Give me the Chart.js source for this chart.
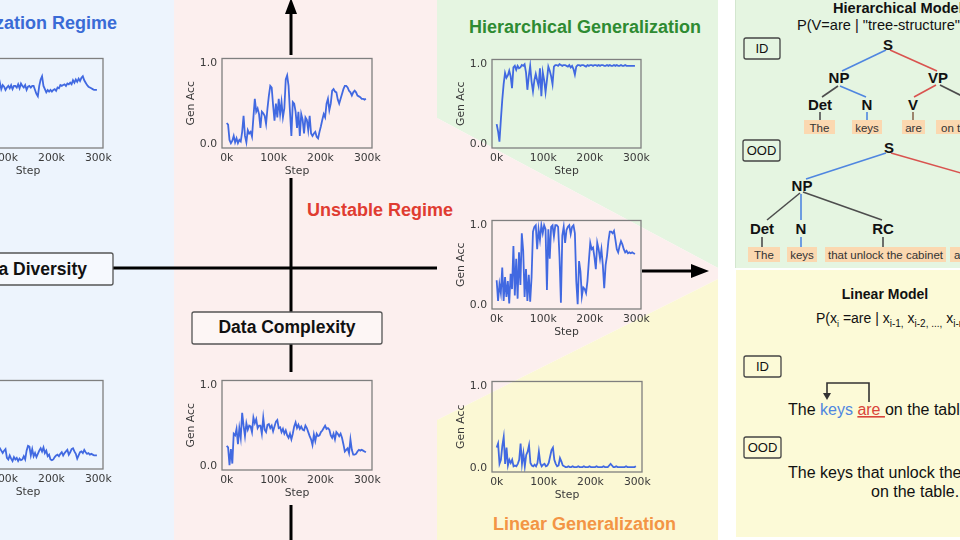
<!DOCTYPE html>
<html><head><meta charset="utf-8">
<script src="https://cdn.jsdelivr.net/npm/chart.js@4.4.1/dist/chart.umd.min.js"></script>
<style>
html,body{margin:0;padding:0;background:#fff;}
#stage{position:relative;width:960px;height:540px;overflow:hidden;background:#fff;}
.cw{position:absolute;}
svg text{font-family:"Liberation Sans",Arial,sans-serif;}
</style></head>
<body><div id="stage">
<svg id="bg" width="960" height="540" style="position:absolute;left:0;top:0">
  <rect x="0" y="0" width="175" height="540" fill="#edf4fd"/>
  <rect x="174" y="0" width="264" height="540" fill="#fcefee"/>
  <polygon points="437,0 718,0 718,268 437,118" fill="#e5f5e1"/>
  <polygon points="437,118 718,268 718,279 437,420" fill="#fcefee"/>
  <polygon points="437,420 718,279 718,540 437,540" fill="#fbf8d4"/>
  <rect x="735" y="0" width="230" height="268" fill="#e5f5e1"/>
  <line x1="735.5" y1="0" x2="735.5" y2="268" stroke="#d3e6cf" stroke-width="1"/>
  <rect x="736" y="270" width="230" height="267" fill="#fcfad7"/>

  <!-- axes of the diagram -->
  <g stroke="#000" stroke-width="3" fill="none">
    <line x1="113" y1="268" x2="437" y2="268"/>
    <line x1="642" y1="271" x2="695" y2="271"/>
    <line x1="291" y1="10" x2="291" y2="55"/>
    <line x1="291" y1="178" x2="291" y2="312"/>
    <line x1="291" y1="344" x2="291" y2="372"/>
    <line x1="291" y1="505" x2="291" y2="540"/>
  </g>
  <polygon points="291,-2 285,14 297,14" fill="#000"/>
  <polygon points="691,264 709,271 691,278" fill="#000"/>

  <rect x="-60" y="253" width="173" height="32" rx="2" fill="#f6f9fe" stroke="#555" stroke-width="1.3"/>
  <rect x="192" y="312" width="190" height="32" rx="2" fill="#fdf6f5" stroke="#555" stroke-width="1.3"/>
  <text x="87" y="275" font-size="17.5" font-weight="bold" text-anchor="end" fill="#111">Data Diversity</text>
  <text x="287" y="333" font-size="17.5" font-weight="bold" text-anchor="middle" fill="#111">Data Complexity</text>

  <text x="117" y="29" font-size="18" font-weight="bold" text-anchor="end" fill="#3a6bd6">Memorization Regime</text>
  <text x="469" y="33" font-size="18" font-weight="bold" fill="#2e8b32">Hierarchical Generalization</text>
  <text x="307" y="216" font-size="18" font-weight="bold" fill="#e03c31">Unstable Regime</text>
  <text x="493" y="530" font-size="18" font-weight="bold" fill="#f39545">Linear Generalization</text>

  <!-- Hierarchical model panel -->
  <text x="833" y="13" font-size="14.6" font-weight="bold" fill="#111">Hierarchical Model</text>
  <text x="797" y="30" font-size="14.6" fill="#111">P(V=are | "tree-structure", S)</text>
  <rect x="744" y="38" width="36" height="21" rx="2" fill="none" stroke="#444" stroke-width="1.3"/>
  <text x="762" y="53" font-size="13" text-anchor="middle" fill="#111">ID</text>
  <g stroke-width="1.6" fill="none">
    <line x1="886" y1="50" x2="842" y2="71" stroke="#4f86e0"/>
    <line x1="890" y1="50" x2="937" y2="71" stroke="#d9534f"/>
    <line x1="838" y1="86" x2="822" y2="97" stroke="#4d4d4d"/>
    <line x1="840" y1="86" x2="866" y2="97" stroke="#4f86e0"/>
    <line x1="936" y1="85" x2="914" y2="97" stroke="#d9534f"/>
    <line x1="940" y1="85" x2="964" y2="97" stroke="#4d4d4d"/>
    <line x1="820" y1="112" x2="820" y2="120" stroke="#4d4d4d"/>
    <line x1="867" y1="112" x2="867" y2="120" stroke="#4f86e0"/>
    <line x1="913" y1="112" x2="913" y2="120" stroke="#8a6a50"/>
  </g>
  <g font-size="15" font-weight="bold" text-anchor="middle" fill="#111">
    <text x="888" y="49.5">S</text>
    <text x="839" y="83">NP</text>
    <text x="938" y="83">VP</text>
    <text x="820" y="109.5">Det</text>
    <text x="867" y="109.5">N</text>
    <text x="913" y="109.5">V</text>
    <text x="972" y="109.5">PP</text>
  </g>
  <g fill="#fbd8b0">
    <rect x="804" y="120" width="31" height="14"/>
    <rect x="852" y="120" width="30" height="14"/>
    <rect x="902" y="120" width="23" height="14"/>
    <rect x="936" y="120" width="40" height="14"/>
  </g>
  <g font-size="11.5" text-anchor="middle" fill="#333">
    <text x="819.5" y="131.5">The</text>
    <text x="867" y="131.5">keys</text>
    <text x="913.5" y="131.5">are</text>
    <text x="941" y="131.5" text-anchor="start">on the table</text>
  </g>

  <rect x="743" y="140" width="37" height="21" rx="2" fill="none" stroke="#444" stroke-width="1.3"/>
  <text x="761.5" y="155" font-size="13" text-anchor="middle" fill="#111">OOD</text>
  <g stroke-width="1.6" fill="none">
    <line x1="886" y1="153" x2="806" y2="179" stroke="#4f86e0"/>
    <line x1="891" y1="153" x2="975" y2="177" stroke="#d9534f"/>
    <line x1="800" y1="193" x2="767" y2="220" stroke="#4d4d4d"/>
    <line x1="801" y1="194" x2="801" y2="220" stroke="#4f86e0"/>
    <line x1="803" y1="192" x2="882" y2="220" stroke="#4d4d4d"/>
    <line x1="762" y1="237" x2="762" y2="247" stroke="#4d4d4d"/>
    <line x1="801" y1="237" x2="801" y2="247" stroke="#4f86e0"/>
    <line x1="883" y1="237" x2="883" y2="247" stroke="#4d4d4d"/>
  </g>
  <g font-size="15" font-weight="bold" text-anchor="middle" fill="#111">
    <text x="889" y="152.5">S</text>
    <text x="802" y="191">NP</text>
    <text x="762" y="233.5">Det</text>
    <text x="801" y="233.5">N</text>
    <text x="883" y="233.5">RC</text>
  </g>
  <g fill="#fbd8b0">
    <rect x="748" y="247" width="32" height="15"/>
    <rect x="787" y="247" width="30" height="15"/>
    <rect x="825" y="247" width="121" height="15"/>
    <rect x="950" y="247" width="30" height="15"/>
  </g>
  <g font-size="11.5" text-anchor="middle" fill="#333">
    <text x="764" y="258.5">The</text>
    <text x="802" y="258.5">keys</text>
    <text x="885.5" y="258.5">that unlock the cabinet</text>
    <text x="954" y="258.5" text-anchor="start">are</text>
  </g>

  <!-- Linear model panel -->
  <text x="885" y="299" font-size="14" font-weight="bold" text-anchor="middle" fill="#111">Linear Model</text>
  <text x="816" y="323" font-size="14" fill="#111">P(x<tspan font-size="9" dy="4">i</tspan><tspan dy="-4"> =are | x</tspan><tspan font-size="10" dy="4">i-1,</tspan><tspan dy="-4"> x</tspan><tspan font-size="10" dy="4">i-2, ...,</tspan><tspan dy="-4"> x</tspan><tspan font-size="10" dy="4">i-n</tspan><tspan dy="-4">)</tspan></text>
  <rect x="744" y="356" width="37" height="21" rx="2" fill="none" stroke="#444" stroke-width="1.3"/>
  <text x="762.5" y="371" font-size="13" text-anchor="middle" fill="#111">ID</text>
  <polyline points="869,402 869,383 827,383 827,394" fill="none" stroke="#333" stroke-width="1.6"/>
  <polygon points="823,393 831,393 827,400" fill="#333"/>
  <text x="788" y="415" font-size="16" fill="#111">The <tspan fill="#4f86e0">keys</tspan> <tspan fill="#d9443a" text-decoration="underline">are </tspan>on the table.</text>
  <rect x="744" y="437" width="37" height="21" rx="2" fill="none" stroke="#444" stroke-width="1.3"/>
  <text x="762.5" y="452" font-size="13" text-anchor="middle" fill="#111">OOD</text>
  <text x="788" y="478" font-size="16" fill="#111">The keys that unlock the cabinet are</text>
  <text x="871" y="497" font-size="16" fill="#111">on the table.</text>
</svg>
</div>
<script>
// ---- data (step in thousands, generalization accuracy) ----
const steps = [0,3,6,9,12,15,18,21,24,27,30,33,36,39,42,45,48,51,54,57,60,63,66,69,72,75,78,81,84,87,90,93,96,99,102,105,108,111,114,117,120,123,126,129,132,135,138,141,144,147,150,153,156,159,162,165,168,171,174,177,180,183,186,189,192,195,198,201,204,207,210,213,216,219,222,225,228,231,234,237,240,243,246,249,252,255,258,261,264,267,270,273,276,279,282,285,288,291,294,297];
const xTickValues = [0,100,200,300];
const xTickLabels = ['0k','100k','200k','300k'];
const yTickValues = [0,1];
const yTickLabels = ['0.0','1.0'];

const memorizationTop = [0.55,0.62,0.70,0.66,0.72,0.68,0.74,0.70,0.65,0.71,0.75,0.69,0.73,0.67,0.70,0.74,0.69,0.72,0.66,0.71,0.75,0.70,0.68,0.73,0.70,0.66,0.72,0.69,0.74,0.70,
0.76,0.68,0.73,0.71,0.67,0.70,0.72,0.69,0.73,0.68,0.72,0.72,0.70,0.74,0.69,0.75,0.72,0.70,0.73,0.67,0.71,0.72,0.70,0.72,0.72,0.67,0.62,0.59,0.72,0.80,
0.84,0.72,0.68,0.64,0.67,0.65,0.67,0.65,0.67,0.68,0.66,0.70,0.69,0.73,0.72,0.73,0.74,0.72,0.75,0.74,0.76,0.74,0.79,0.76,0.80,0.77,0.81,0.78,0.82,0.84,
0.79,0.76,0.73,0.71,0.70,0.69,0.68,0.67,0.67,0.67];
const unstableTop = [0.26,0.24,0.05,0.01,0.04,0.10,0.02,0.07,0.01,0.05,0.03,0.15,0.35,0.10,0.02,0.17,0.13,0.15,0.09,0.33,
0.56,0.40,0.44,0.37,0.20,0.40,0.38,0.35,0.25,0.44,0.60,0.72,0.70,0.48,0.29,0.50,0.33,0.56,0.37,0.52,
0.33,0.44,0.80,0.85,0.72,0.40,0.10,0.52,0.50,0.40,0.20,0.40,0.10,0.37,0.30,0.13,0.33,0.30,0.17,0.35,
0.13,0.10,0.13,0.15,0.09,0.07,0.15,0.22,0.30,0.37,0.33,0.50,0.56,0.42,0.50,0.66,0.68,0.65,0.64,0.55,
0.50,0.56,0.62,0.68,0.72,0.72,0.70,0.66,0.64,0.60,0.64,0.66,0.64,0.60,0.59,0.58,0.56,0.56,0.55,0.56];
const hierarchicalTop = [0.25,0.16,0.03,0.30,0.55,0.75,0.89,0.83,0.86,0.92,0.85,0.70,0.96,0.98,0.93,0.98,0.95,0.96,0.99,0.98,
1.00,0.90,0.68,0.85,0.98,0.78,0.66,0.80,0.88,0.80,0.73,0.95,0.60,0.90,0.80,0.65,0.80,0.97,0.92,0.85,
0.75,0.97,0.99,0.99,0.98,1.00,0.99,0.98,0.99,0.99,0.98,0.97,0.99,0.96,0.98,0.94,0.87,0.97,0.99,0.99,
0.98,0.99,0.99,0.98,0.97,0.99,0.98,0.99,0.99,0.98,0.99,0.99,0.98,0.99,0.98,0.99,0.99,0.98,0.98,0.99,
0.98,0.99,0.98,0.98,0.99,0.98,0.99,0.98,0.98,0.99,0.98,0.98,0.99,0.98,0.98,0.98,0.98,0.98,0.98,0.98];
const unstableMid = [0.31,0.05,0.26,0.15,0.47,0.05,0.35,0.10,0.30,0.02,0.39,0.20,0.74,0.12,0.58,0.08,0.66,0.25,0.90,0.68,
0.10,0.45,0.05,0.38,0.04,0.35,0.92,0.98,1.00,0.70,0.95,0.82,1.00,0.90,1.00,0.95,0.19,0.95,0.58,0.98,
1.00,0.86,1.00,1.00,0.98,0.60,0.03,0.87,0.98,0.78,0.94,0.98,1.00,0.89,0.98,1.00,0.90,0.30,0.01,0.55,
0.42,0.11,0.22,0.20,0.15,0.30,0.55,0.78,0.70,0.72,0.60,0.45,0.78,0.70,0.58,0.70,0.50,0.21,0.50,0.62,
0.80,0.92,0.92,0.90,0.93,0.82,0.70,0.66,0.74,0.80,0.76,0.70,0.66,0.68,0.65,0.66,0.65,0.66,0.65,0.64];
const diversityBottom = [0.30,0.22,0.18,0.25,0.15,0.20,0.12,0.22,0.17,0.10,0.19,0.14,0.21,0.12,0.16,0.23,0.13,0.18,0.11,0.20,
0.15,0.12,0.19,0.14,0.17,0.10,0.20,0.16,0.13,0.18,
0.21,0.18,0.15,0.18,0.20,0.09,0.07,0.12,0.08,0.05,0.10,0.07,0.09,0.05,0.08,0.06,0.07,0.11,0.07,0.18,
0.24,0.23,0.12,0.20,0.11,0.15,0.10,0.14,0.18,0.21,0.17,0.22,0.15,0.18,0.11,0.13,0.07,0.06,0.07,0.10,
0.12,0.13,0.11,0.14,0.16,0.12,0.15,0.17,0.19,0.13,0.16,0.20,0.21,0.17,0.14,0.08,0.12,0.16,0.17,0.15,
0.19,0.16,0.14,0.15,0.13,0.14,0.13,0.12,0.12,0.12];
const complexityBottom = [0.25,0.23,0.01,0.21,0.03,0.40,0.38,0.46,0.27,0.47,0.35,0.66,0.50,0.37,0.53,0.45,0.50,0.49,0.42,0.60,
0.53,0.58,0.47,0.50,0.50,0.40,0.60,0.45,0.42,0.51,0.52,0.47,0.50,0.43,0.49,0.55,0.57,0.47,0.48,0.42,
0.46,0.40,0.44,0.38,0.35,0.40,0.33,0.40,0.49,0.54,0.47,0.51,0.46,0.49,0.45,0.44,0.50,0.47,0.42,0.37,
0.33,0.26,0.39,0.31,0.40,0.37,0.38,0.42,0.44,0.47,0.50,0.46,0.47,0.45,0.38,0.35,0.40,0.33,0.42,0.40,
0.37,0.40,0.35,0.27,0.18,0.20,0.22,0.16,0.33,0.20,0.14,0.14,0.15,0.18,0.20,0.19,0.20,0.19,0.18,0.17];
const linearBottom = [0.25,0.30,0.05,0.10,0.27,0.38,0.05,0.25,0.03,0.10,0.06,0.10,0.02,0.03,0.02,0.05,0.10,0.30,0.05,0.18,
0.02,0.16,0.20,0.28,0.06,0.03,0.02,0.04,0.02,0.06,0.20,0.06,0.02,0.04,0.05,0.02,0.03,0.06,0.14,0.22,
0.25,0.10,0.05,0.02,0.03,0.12,0.08,0.03,0.02,0.01,0.01,0.02,0.01,0.01,0.02,0.01,0.01,0.01,0.02,0.01,
0.01,0.01,0.02,0.01,0.01,0.01,0.02,0.01,0.01,0.01,0.01,0.02,0.01,0.01,0.01,0.01,0.02,0.01,0.01,0.01,
0.03,0.05,0.03,0.01,0.01,0.02,0.01,0.01,0.01,0.01,0.01,0.01,0.02,0.01,0.01,0.01,0.01,0.01,0.01,0.02];

// ---- small multiples ----
const TXT = '#3a3a3a';
const FONT = {family:'"DejaVu Sans", sans-serif', size:10.8};
const framePlugin = {
  id:'frame',
  afterDatasetsDraw(chart){
    const a = chart.chartArea, c = chart.ctx;
    c.save(); c.strokeStyle = '#7f7f7f'; c.lineWidth = 1.3;
    c.strokeRect(a.left, a.top, a.right - a.left, a.bottom - a.top);
    c.restore();
  }
};
function makeChart(values, L, T, W, H){
  const PADL = 40, PADT = 8, PADR = 14, AXH = 31;
  const div = document.createElement('div');
  div.className = 'cw';
  div.style.left = (L - PADL) + 'px';
  div.style.top = (T - PADT) + 'px';
  const cv = document.createElement('canvas');
  cv.width = W + PADL + PADR; cv.height = H + PADT + AXH;
  cv.style.width = cv.width + 'px'; cv.style.height = cv.height + 'px';
  div.appendChild(cv);
  document.getElementById('stage').appendChild(div);
  new Chart(cv, {
    type:'line',
    data:{datasets:[{data: steps.map((s,i)=>({x:s, y:values[i]})), borderColor:'#4169e1', borderWidth:1.8,
      pointRadius:0, tension:0, fill:false}]},
    options:{
      responsive:false, animation:false, devicePixelRatio:1,
      layout:{padding:{left:0, top:PADT, right:PADR, bottom:0}},
      plugins:{legend:{display:false}, tooltip:{enabled:false}},
      scales:{
        x:{type:'linear', min:-10, max:310,
          afterBuildTicks(s){ s.ticks = xTickValues.map(v=>({value:v})); },
          afterFit(s){ s.height = AXH; },
          ticks:{autoSkip:false, maxRotation:0, padding:4, color:TXT, font:FONT,
            callback:(v,i)=>xTickLabels[i]},
          grid:{display:false, drawTicks:false}, border:{display:false},
          title:{display:true, text:'Step', color:TXT, font:FONT, padding:{top:0,bottom:1}}},
        y:{type:'linear', min:-0.05, max:1.06,
          afterBuildTicks(s){ s.ticks = yTickValues.map(v=>({value:v})); },
          afterFit(s){ s.width = PADL; },
          ticks:{autoSkip:false, padding:5, color:TXT, font:FONT, callback:(v,i)=>yTickLabels[i]},
          grid:{display:false, drawTicks:false}, border:{display:false},
          title:{display:true, text:'Gen Acc', color:TXT, font:FONT, padding:{top:3,bottom:0}}}
      }
    },
    plugins:[framePlugin]
  });
}
makeChart(memorizationTop, -47, 55, 150, 93);
makeChart(unstableTop, 222, 55, 150, 93);
makeChart(hierarchicalTop, 492, 56, 149, 92);
makeChart(unstableMid, 492, 217, 149, 92);
makeChart(diversityBottom, -47, 377, 150, 92);
makeChart(complexityBottom, 222, 377, 150, 93);
makeChart(linearBottom, 492, 378, 150, 94);
</script>
</body></html>
